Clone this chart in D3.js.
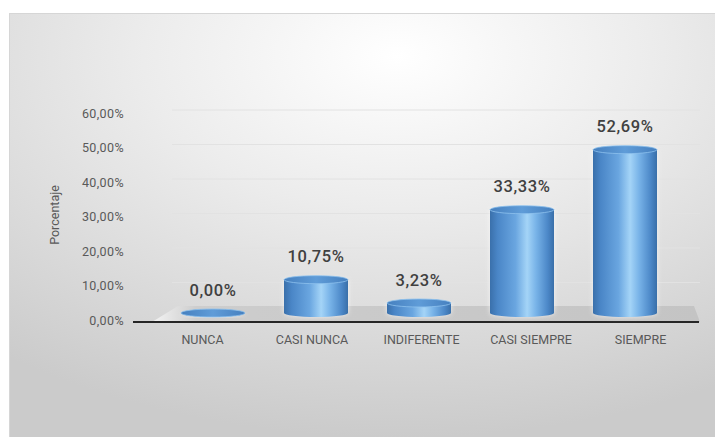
<!DOCTYPE html>
<html>
<head>
<meta charset="utf-8">
<script src="https://cdn.jsdelivr.net/npm/d3@7"></script>
<style>
  html, body { margin: 0; padding: 0; background: #ffffff; }
  svg { display: block; }
</style>
</head>
<body>
<svg id="chart" width="715" height="437"></svg>
<script>
// Survey answers (share of respondents per option)
const categories = ["NUNCA", "CASI NUNCA", "INDIFERENTE", "CASI SIEMPRE", "SIEMPRE"];
const values = [0.00, 10.75, 3.23, 33.33, 52.69];
const tickValues = [0, 10, 20, 30, 40, 50, 60];
const axisTitle = "Porcentaje";

const fmt = v => v.toFixed(2).replace(".", ",") + "%";

const svg = d3.select("#chart");

// ---- definitions: background and cylinder shading ----
const defs = svg.append("defs");

const bgGrad = defs.append("radialGradient")
  .attr("id", "bgGrad")
  .attr("cx", "0.55").attr("cy", "0.1").attr("r", "0.9");
bgGrad.append("stop").attr("offset", "0").attr("stop-color", "#ffffff");
bgGrad.append("stop").attr("offset", "0.4").attr("stop-color", "#ececec");
bgGrad.append("stop").attr("offset", "1").attr("stop-color", "#cbcbcb");

const bodyGrad = defs.append("linearGradient")
  .attr("id", "cylBody").attr("x1", "0").attr("x2", "1").attr("y1", "0").attr("y2", "0");
[["0", "#3a70ab"], ["0.12", "#4a86c7"], ["0.4", "#6aa6e0"], ["0.58", "#a4d4f7"],
 ["0.72", "#78b3e8"], ["0.9", "#4c88c8"], ["1", "#396fa9"]]
  .forEach(([o, c]) => bodyGrad.append("stop").attr("offset", o).attr("stop-color", c));

const capGrad = defs.append("linearGradient")
  .attr("id", "cylTop").attr("x1", "0").attr("x2", "1").attr("y1", "0").attr("y2", "0");
[["0", "#4680bf"], ["0.5", "#5f9cd8"], ["1", "#4680bf"]]
  .forEach(([o, c]) => capGrad.append("stop").attr("offset", o).attr("stop-color", c));

const floorGrad = defs.append("linearGradient")
  .attr("id", "floorGrad").attr("x1", "0").attr("x2", "1").attr("y1", "0").attr("y2", "0");
[["0", "#f4f4f4"], ["0.08", "#cdcdcd"], ["1", "#c4c4c4"]]
  .forEach(([o, c]) => floorGrad.append("stop").attr("offset", o).attr("stop-color", c));

const glow = defs.append("filter").attr("id", "glow")
  .attr("x", "-20%").attr("y", "-10%").attr("width", "140%").attr("height", "120%");
glow.append("feGaussianBlur").attr("stdDeviation", 2.5);

// ---- chart area ----
svg.append("rect")
  .attr("x", 9.5).attr("y", 13.5).attr("width", 706).attr("height", 424)
  .attr("fill", "url(#bgGrad)")
  .attr("stroke", "#d6d6d6");

// scales: front edge (category labels, value axis) and bar plane
const xFront = d3.scalePoint().domain(categories).range([202, 640]);
const xBar = d3.scalePoint().domain(categories).range([213, 625]);
const barWidth = 64;
const yAxis = d3.scaleLinear().domain([0, 60]).range([320, 113]);
const yBar = d3.scaleLinear().domain([0, 60]).range([313, 127]);

// back-wall gridlines
svg.append("g").selectAll("line")
  .data(tickValues.filter(v => v > 0))
  .join("line")
  .attr("x1", 172).attr("x2", 700)
  .attr("y1", d => yAxis(d) - 3).attr("y2", d => yAxis(d) - 3)
  .attr("stroke", "#e2e2e2").attr("stroke-width", 1);

// floor
svg.append("polygon")
  .attr("points", [[152, 322], [178, 306], [694, 306], [700, 322]].map(p => p.join(",")).join(" "))
  .attr("fill", "url(#floorGrad)");
svg.append("line")
  .attr("x1", 133).attr("x2", 699).attr("y1", 322).attr("y2", 322)
  .attr("stroke", "#262626").attr("stroke-width", 2);

// value axis labels
const axisG = svg.append("g").attr("transform", "translate(124,0)");
const yAx = d3.axisLeft(yAxis).tickValues(tickValues).tickSize(0).tickPadding(0)
  .tickFormat(d => fmt(d));
axisG.call(yAx);
axisG.select(".domain").remove();
axisG.selectAll("text")
  .attr("font-family", "Roboto, 'Liberation Sans', sans-serif")
  .attr("font-size", 12.5)
  .attr("letter-spacing", 0.4)
  .attr("fill", "#595959");

// axis title
svg.append("text")
  .attr("transform", "translate(59,215) rotate(-90)")
  .attr("text-anchor", "middle")
  .attr("font-family", "Roboto, 'Liberation Sans', sans-serif")
  .attr("font-size", 12.5)
  .attr("fill", "#595959")
  .text(axisTitle);

// category labels
const xAx = d3.axisBottom(xFront).tickSize(0).tickPadding(0);
const xG = svg.append("g").attr("transform", "translate(0,335)").call(xAx);
xG.select(".domain").remove();
xG.selectAll("text")
  .attr("font-family", "Roboto, 'Liberation Sans', sans-serif")
  .attr("font-size", 12.5)
  .attr("fill", "#595959");

// cylinders
const ry = 4;
const data = categories.map((c, i) => ({ c, v: values[i] }));
const bars = svg.append("g").selectAll("g").data(data).join("g");

bars.each(function (d) {
  const g = d3.select(this);
  const cx = xBar(d.c), rx = barWidth / 2, x0 = cx - rx, w = barWidth;
  const yb = yBar(0), yt = yBar(d.v);
  const path = `M${x0},${yt} L${x0},${yb} A${rx},${ry} 0 0 0 ${x0 + w},${yb} L${x0 + w},${yt} Z`;
  // soft light halo
  g.append("path").attr("d", path).attr("fill", "#ffffff").attr("opacity", 0.7)
    .attr("filter", "url(#glow)");
  g.append("path").attr("d", path).attr("fill", "url(#cylBody)");
  g.append("ellipse")
    .attr("cx", cx).attr("cy", yt).attr("rx", rx).attr("ry", ry)
    .attr("fill", "url(#cylTop)")
    .attr("stroke", "#8ec2ee").attr("stroke-width", 0.8);
});

// value labels
bars.append("text")
  .attr("x", d => xBar(d.c))
  .attr("y", d => yBar(d.v) - ry - 19)
  .attr("dy", "0.35em")
  .attr("text-anchor", "middle")
  .attr("font-family", "Roboto, 'Liberation Sans', sans-serif")
  .attr("font-size", 16.5)
  .attr("font-weight", 500)
  .attr("letter-spacing", 0.6)
  .attr("fill", "#404040")
  .text(d => fmt(d.v));
</script>
</body>
</html>
